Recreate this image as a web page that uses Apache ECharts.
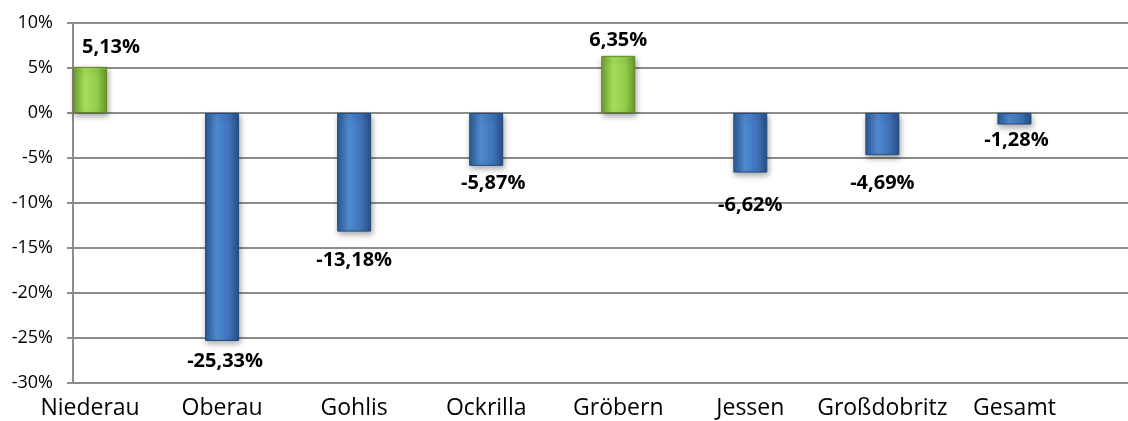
<!DOCTYPE html>
<html>
<head>
<meta charset="utf-8">
<script src="https://cdn.jsdelivr.net/npm/echarts@6/dist/echarts.min.js"></script>
<style>
  html, body { margin: 0; padding: 0; background: #fff; }
  #chart { width: 1128px; height: 421px; }
</style>
</head>
<body>
<div id="chart"></div>
<script>
// Kategorien und Werte (Veränderung in %)
const categories = ['Niederau', 'Oberau', 'Gohlis', 'Ockrilla', 'Gröbern', 'Jessen', 'Großdobritz', 'Gesamt']
const values = [5.13, -25.33, -13.18, -5.87, 6.35, -6.62, -4.69, -1.28]
const yTicks = [-30, -25, -20, -15, -10, -5, 0, 5, 10]

// Label-Verschiebung je Balken (wie im Original manuell verschoben)
const labelOffsets = [[21, -5], [3, 5], [0, 14], [7, 2], [0, -1], [0, 18], [0, 13], [2, 1]]

const font = "'Open Sans', 'Noto Sans', sans-serif"
const gridColor = '#8c8c8c'

// Balkenfarben mit leichtem Zylinder-Effekt
const barColor = (v) => {
  const c = v >= 0
    ? ['#6f9f32', '#a6dc5c', '#92cf4c', '#6a9a2e']
    : ['#2b5a94', '#5089cf', '#3e73b8', '#284f86']
  return {
    type: 'linear', x: 0, y: 0, x2: 1, y2: 0,
    colorStops: [
      { offset: 0, color: c[0] },
      { offset: 0.35, color: c[1] },
      { offset: 0.7, color: c[2] },
      { offset: 1, color: c[3] }
    ]
  }
}

const chart = echarts.init(document.getElementById('chart'))

chart.setOption({
  animation: false,
  grid: { left: 73, right: 0, top: 23, bottom: 38, containLabel: false },
  xAxis: {
    type: 'value',
    min: -0.129,
    max: 7.86,
    splitLine: { show: false },
    axisTick: { show: false },
    axisLine: { show: true, onZero: false, lineStyle: { color: gridColor, width: 2 } },
    axisLabel: {
      customValues: categories.map((_, i) => i),
      formatter: (v) => categories[Math.round(v)] || '',
      color: '#000',
      fontFamily: font,
      fontSize: 23,
      margin: 14
    }
  },
  yAxis: {
    type: 'value',
    min: yTicks[0],
    max: yTicks[yTicks.length - 1],
    interval: 5,
    axisLine: { show: true, onZero: false, lineStyle: { color: gridColor, width: 2 } },
    axisTick: { show: true, length: 6, lineStyle: { color: gridColor, width: 2 } },
    splitLine: { show: true, lineStyle: { color: gridColor, width: 2 } },
    axisLabel: {
      formatter: (v) => v + '%',
      color: '#000',
      fontFamily: font,
      fontSize: 18,
      margin: 20
    }
  },
  series: [
    {
      type: 'bar',
      barWidth: 34,
      data: values.map((v, i) => ({
        value: [i, v],
        itemStyle: {
          color: barColor(v),
          borderColor: v >= 0 ? '#5f8a28' : '#234a7c',
          borderWidth: 1,
          shadowBlur: 6,
          shadowOffsetX: 1,
          shadowOffsetY: 3,
          shadowColor: 'rgba(0,0,0,0.35)'
        },
        label: {
          show: true,
          position: v >= 0 ? 'top' : 'bottom',
          offset: labelOffsets[i],
          formatter: v.toFixed(2).replace('.', ',') + '%',
          color: '#000',
          fontFamily: font,
          fontWeight: 'bold',
          fontSize: 20
        }
      }))
    }
  ]
})
</script>
</body>
</html>
